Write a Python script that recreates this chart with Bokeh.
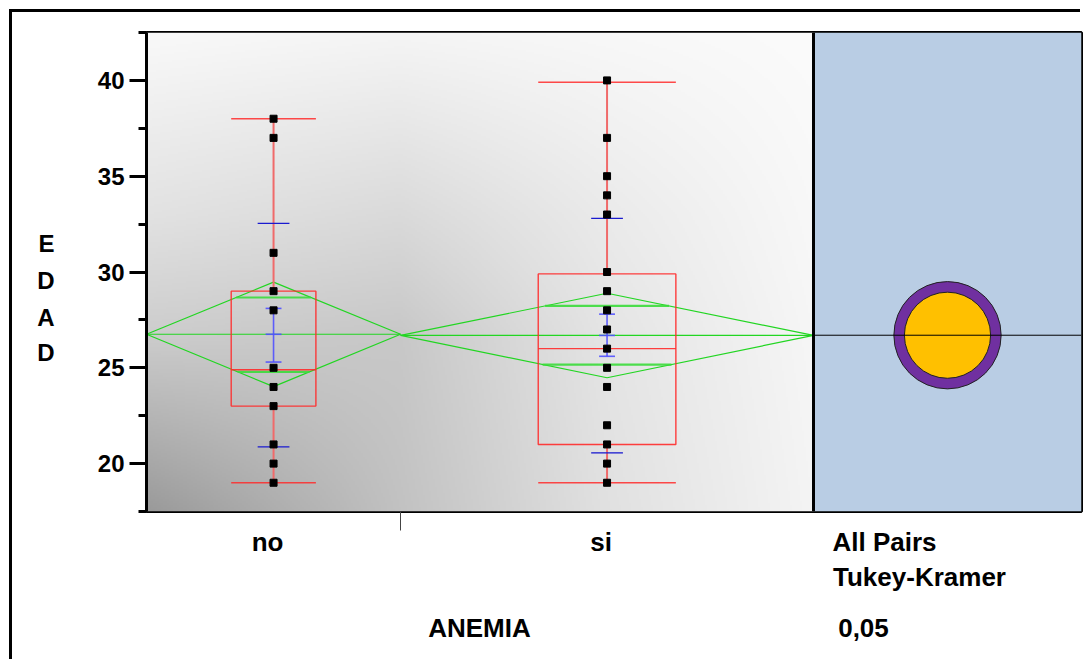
import numpy as np
from bokeh.plotting import figure
from bokeh.models import Range1d, FixedTicker, LinearAxis, Span
from bokeh.embed import file_html
from bokeh.resources import INLINE

# ---------------- data ----------------
groups = ["no", "si"]
group_n = [16, 26]                      # relative group sizes -> slot widths on the x axis
values_no = [38, 37, 31, 29, 28, 25, 24, 23, 21, 20, 19]
values_si = [40, 37, 35, 34, 33, 30, 29, 28, 27, 26, 25, 24, 22, 21, 20, 19]
whisker_low = [19.0, 19.0]
q1 = [23.0, 21.0]
median = [24.9, 26.0]
q3 = [29.0, 29.9]
whisker_high = [38.0, 39.9]
means = [26.75, 26.69]
ci_low = [24.02, 24.48]
ci_high = [29.47, 28.89]
overlap_low = [24.79, 25.17]
overlap_high = [28.67, 28.23]
se_low = [25.3, 25.6]
se_high = [28.1, 27.8]
sd_low = [20.87, 20.56]
sd_high = [32.54, 32.80]
grand_mean = 26.7
circle_radius = [2.8, 2.25]             # comparison circles: no, si
circle_colors = ["#7030a0", "#ffc000"]
y_ticks = [20, 25, 30, 35, 40]
y_minor = [17.5, 22.5, 27.5, 32.5, 37.5, 42.5]
x_title = "ANEMIA"
y_title = ["E", "D", "A", "D"]
panel_text = ["All Pairs", "Tukey-Kramer", "0,05"]

# ---------------- layout constants ----------------
FONT = "Liberation Sans"
Y0, Y1 = 17.5, 42.5
FRAME_W, FRAME_H = 935, 479
MAIN_W = 667
total_n = sum(group_n)
PX = MAIN_W / total_n                   # pixels per x unit
x_end = FRAME_W / PX

lefts = [sum(group_n[:i]) for i in range(len(group_n))]
rights = [l + n for l, n in zip(lefts, group_n)]
centers = [(l + r) / 2 for l, r in zip(lefts, rights)]
half = [n / 2 for n in group_n]

p = figure(frame_width=FRAME_W, frame_height=FRAME_H,
           min_border_left=134, min_border_top=20, min_border_right=2, min_border_bottom=151,
           x_range=Range1d(0, x_end), y_range=Range1d(Y0, Y1),
           output_backend="svg", toolbar_location=None,
           background_fill_color="white", border_fill_color="white")
p.extra_x_ranges = {"px": Range1d(0, FRAME_W)}
p.extra_y_ranges = {"pxy": Range1d(0, FRAME_H)}
p.styles = {"margin-left": "12px", "margin-top": "12px",
            "box-shadow": "-3px -3px 0px 0px black"}
p.grid.visible = False
p.outline_line_color = "black"
p.outline_line_width = 3

# background gradient of the main area (style only)
H, W = 240, 336
u = np.linspace(0, 1, W)
v = np.linspace(0, 1, H)
gu = [0, 0.38, 0.68, 1.0]
gv = [0, 0.37, 0.62, 1.0]
gridv = np.array([[154, 194, 224, 244],
                  [205, 200, 228, 246],
                  [226, 218, 234, 248],
                  [249, 245, 248, 251]], dtype=float)
rows = np.array([np.interp(u, gu, r) for r in gridv])
img = np.array([np.interp(v, gv, rows[:, j]) for j in range(W)]).T
g = np.clip(img, 0, 255).astype(np.uint8)
rgba = np.empty((H, W), dtype=np.uint32)
view = rgba.view(dtype=np.uint8).reshape((H, W, 4))
view[..., 0] = g
view[..., 1] = g
view[..., 2] = g
view[..., 3] = 255
p.image_rgba(image=[rgba], x=0, y=Y0, dw=total_n, dh=Y1 - Y0)

# right comparison-circle panel
p.quad(left=[total_n], right=[x_end], bottom=[Y0], top=[Y1],
       fill_color="#b9cde4", line_color=None)
pc = (total_n + x_end) / 2
order = np.argsort(circle_radius)[::-1]
p.circle(x=[pc] * len(groups), y=[grand_mean] * len(groups),
         radius=[circle_radius[i] for i in order], radius_dimension="y",
         fill_color=[circle_colors[i] for i in order], line_color="#222222", line_width=1)
p.segment(x0=[total_n], x1=[x_end], y0=[grand_mean], y1=[grand_mean],
          line_color="black", line_width=1)
p.add_layout(Span(location=total_n, dimension="height", line_color="black", line_width=3))

# means diamonds
GREEN = "#22d622"
p.patches(xs=[[l, c, r, c] for l, c, r in zip(lefts, centers, rights)],
          ys=[[m, hi, m, lo] for m, hi, lo in zip(means, ci_high, ci_low)],
          fill_color=None, line_color=GREEN, line_width=1.2)
p.segment(x0=lefts, x1=rights, y0=means, y1=means, line_color=GREEN, line_width=1.2)
ov_x0, ov_x1, ov_y = [], [], []
for i in range(len(groups)):
    for yv, ext in ((overlap_high[i], ci_high[i]), (overlap_low[i], ci_low[i])):
        frac = 1 - (yv - means[i]) / (ext - means[i])
        hw = half[i] * frac
        ov_x0.append(centers[i] - hw)
        ov_x1.append(centers[i] + hw)
        ov_y.append(yv)
p.segment(x0=ov_x0, x1=ov_x1, y0=ov_y, y1=ov_y, line_color="#3bdc3b", line_width=2.2, line_alpha=0.9)

# box plots
RED = "#ff2a2a"
bw = [n / 6 for n in group_n]
p.quad(left=[c - w for c, w in zip(centers, bw)], right=[c + w for c, w in zip(centers, bw)],
       bottom=q1, top=q3, fill_color=None, line_color=RED, line_width=1.4, line_alpha=0.9)
p.segment(x0=[c - w for c, w in zip(centers, bw)], x1=[c + w for c, w in zip(centers, bw)],
          y0=median, y1=median, line_color=RED, line_width=1.4, line_alpha=0.9)
p.segment(x0=centers + centers, x1=centers + centers,
          y0=whisker_low + q3, y1=q1 + whisker_high,
          line_color="#f06a6a", line_width=2)
p.segment(x0=[c - w for c, w in zip(centers, bw)] * 2, x1=[c + w for c, w in zip(centers, bw)] * 2,
          y0=whisker_low + whisker_high, y1=whisker_low + whisker_high,
          line_color=RED, line_width=1.5, line_alpha=0.85)

# standard deviation lines and mean error bars
p.segment(x0=[c - 1.0 for c in centers] * 2, x1=[c + 1.0 for c in centers] * 2,
          y0=sd_low + sd_high, y1=sd_low + sd_high, line_color="#1a1ad0", line_width=1.3)
p.segment(x0=centers, x1=centers, y0=se_low, y1=se_high,
          line_color="#5050ff", line_width=1.6, line_alpha=0.9)
p.segment(x0=[c - 0.5 for c in centers] * 3, x1=[c + 0.5 for c in centers] * 3,
          y0=se_low + se_high + means, y1=se_low + se_high + means,
          line_color="#5050ff", line_width=1.6, line_alpha=0.9)

# observations
p.scatter(x=[centers[0]] * len(values_no) + [centers[1]] * len(values_si),
          y=values_no + values_si, marker="square", size=7,
          fill_color="black", line_color="black")


def text_axis(ax, size="25px", standoff=10):
    ax.axis_line_color = None
    ax.major_tick_line_color = None
    ax.minor_tick_line_color = None
    ax.major_tick_out = 0
    ax.major_tick_in = 0
    ax.minor_tick_out = 0
    ax.minor_tick_in = 0
    ax.major_label_standoff = standoff
    ax.major_label_text_font = FONT
    ax.major_label_text_font_style = "bold"
    ax.major_label_text_font_size = size
    ax.major_label_text_color = "black"


# y axis
ya = p.yaxis[0]
ya.ticker = FixedTicker(ticks=y_ticks, minor_ticks=y_minor)
ya.axis_line_width = 3
ya.major_tick_line_width = 3
ya.major_tick_out = 17
ya.major_tick_in = 0
ya.minor_tick_line_width = 3
ya.minor_tick_out = 8
ya.minor_tick_in = 0
ya.major_label_standoff = 5
ya.major_label_text_font = FONT
ya.major_label_text_font_style = "bold"
ya.major_label_text_font_size = "24px"
ya.major_label_text_color = "black"

# stacked y title (one letter per line)
ytitle_pos = [268, 231, 194, 159]       # frame pixels from the bottom
yt = LinearAxis(y_range_name="pxy")
text_axis(yt, size="24px", standoff=40)
yt.ticker = FixedTicker(ticks=ytitle_pos, minor_ticks=[])
yt.major_label_overrides = {t: s for t, s in zip(ytitle_pos, y_title)}
p.add_layout(yt, "left")

# x axis: group names + group-boundary tick + first panel caption
xa = p.xaxis[0]
name_x = [round(c - 6 / PX, 4) for c in centers]
allpairs_x = round((884 - 146) / PX, 4)
xa.ticker = FixedTicker(ticks=name_x + [allpairs_x], minor_ticks=[rights[0]])
text_axis(xa, size="26px", standoff=-4)
xa.minor_tick_line_color = "#444444"
xa.minor_tick_line_width = 1
xa.minor_tick_out = 19
xa.major_label_overrides = {**{c: n for c, n in zip(name_x, groups)}, allpairs_x: panel_text[0]}

row2 = LinearAxis(x_range_name="px")
text_axis(row2, size="26px", standoff=2)
row2.ticker = FixedTicker(ticks=[773], minor_ticks=[])
row2.major_label_overrides = {773: panel_text[1]}
p.add_layout(row2, "below")

row3 = LinearAxis(x_range_name="px")
text_axis(row3, size="26px", standoff=18)
row3.ticker = FixedTicker(ticks=[MAIN_W // 2, 717], minor_ticks=[])
row3.major_label_overrides = {MAIN_W // 2: x_title, 717: panel_text[2]}
p.add_layout(row3, "below")

open("out.html", "w").write(file_html(p, INLINE))
